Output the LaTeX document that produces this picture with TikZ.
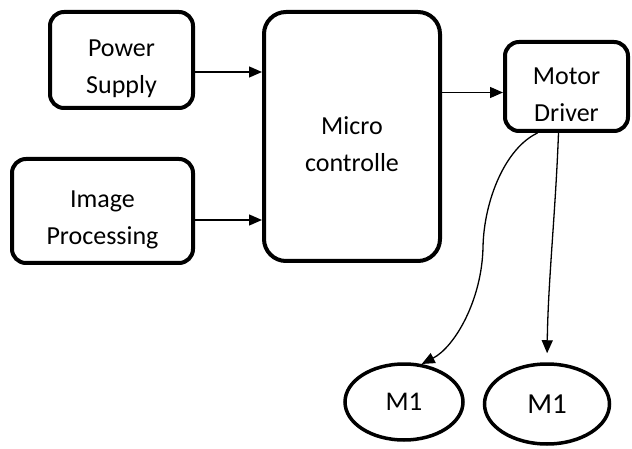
\documentclass[tikz,border=0pt]{standalone}
\usepackage{fontspec}
\setmainfont{Carlito}
\usetikzlibrary{arrows.meta,shapes.geometric}
\newcommand{\txtdrop}{\rule{0pt}{34pt}}

\begin{document}
\begin{tikzpicture}[x=1pt,y=-1pt,
  block/.style={draw, line width=4pt, rounded corners=14pt, align=center,
    font=\fontsize{26}{37}\selectfont},
  motor/.style={draw, ellipse, line width=3.5pt, inner sep=0pt,
    font=\fontsize{27}{30}\selectfont},
  arr/.style={line width=1.3pt, -{Triangle[length=13pt,width=11pt]}}]
\useasboundingbox (0,0) rectangle (632,449);

\node[block, minimum width=143pt, minimum height=96pt] (ps) at (121.5,60) {\txtdrop Power\\Supply};
\node[block, minimum width=181pt, minimum height=104pt] (ip) at (102.5,211) {\txtdrop Image\\Processing};
\node[block, rounded corners=22pt, minimum width=176pt, minimum height=249pt] (mc) at (352,136.5) {\txtdrop Micro\\controlle};
\node[block, minimum width=123pt, minimum height=89pt] (md) at (566.5,86.5) {\txtdrop Motor\\Driver};
\node[motor, minimum width=118pt, minimum height=76pt] (m1) at (404,402) {M1};
\node[motor, minimum width=125pt, minimum height=80pt, font=\fontsize{29}{32}\selectfont] (m2) at (547,404) {M1};

\draw[arr] ([yshift=-12pt]ps.east) -- ([yshift=-12pt]ps.east -| mc.west);
\draw[arr] ([yshift=-9pt]ip.east) -- ([yshift=-9pt]ip.east -| mc.west);
\draw[arr] ([yshift=-6pt]md.west -| mc.east) -- ([yshift=-6pt]md.west);

\draw[arr] ([xshift=-29pt]md.south) .. controls +(-32,15) and +(1,-47) .. (483,247)
  .. controls +(-1,53) and +(33,-17) .. (m1.65);
\draw[arr, shorten >=9pt] ([xshift=-8pt]md.south) .. controls +(-3,80) and +(1,-80) .. (m2.north);
\end{tikzpicture}
\end{document}
